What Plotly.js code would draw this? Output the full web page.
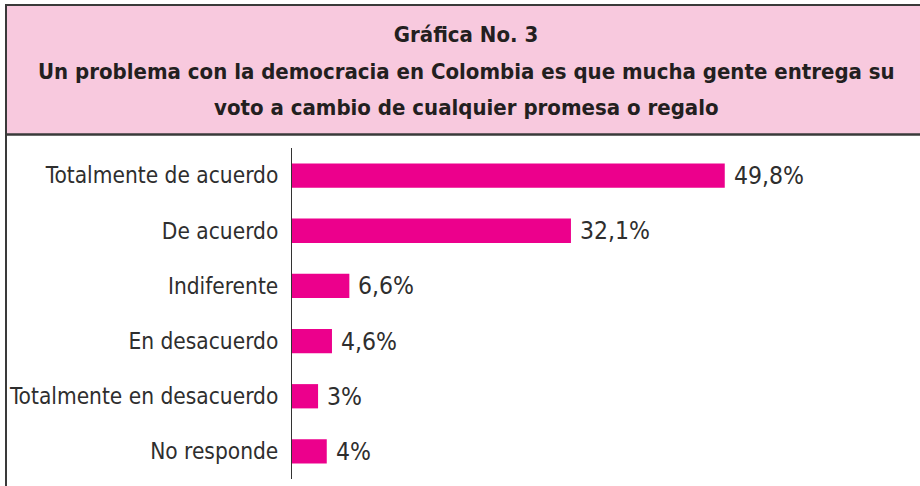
<!DOCTYPE html>
<html>
<head>
<meta charset="utf-8">
<script src="https://cdn.plot.ly/plotly-3.0.1.min.js"></script>
<style>
  html, body { margin: 0; padding: 0; background: #ffffff; }
  #chart { width: 920px; height: 486px; }
</style>
</head>
<body>
<div id="chart"></div>
<script>
const categories = [
  "Totalmente de acuerdo",
  "De acuerdo",
  "Indiferente",
  "En desacuerdo",
  "Totalmente en desacuerdo",
  "No responde"
];
const values = [49.8, 32.1, 6.6, 4.6, 3, 4];
const valueLabels = ["49,8%", "32,1%", "6,6%", "4,6%", "3%", "4%"];
const titleLines = [
  "Gráfica No. 3",
  "Un problema con la democracia en Colombia es que mucha gente entrega su",
  "voto a cambio de cualquier promesa o regalo"
];

const W = 920, H = 486;
const M = { l: 292, r: 20, t: 148, b: 7 };
const PW = W - M.l - M.r, PH = H - M.t - M.b;
const px = x => (x - M.l) / PW;
const py = y => (H - M.b - y) / PH;

const magenta = "#ec008c";
const ink = "#2e2e2e";
const narrow = "'DejaVu Sans Condensed', 'Liberation Sans Narrow', sans-serif";

const trace = {
  type: "bar",
  orientation: "h",
  y: categories,
  x: values,
  width: 0.44,
  marker: { color: magenta, line: { width: 0 } },
  hoverinfo: "skip",
  cliponaxis: false
};

const annotations = values.map((v, i) => ({
  x: v, y: categories[i], xref: "x", yref: "y",
  text: valueLabels[i], showarrow: false,
  xanchor: "left", yanchor: "middle", xshift: 7,
  font: { family: narrow, size: 24.5, color: ink }
}));

// title lines 2 and 3 (line 1 is layout.title)
const titleCenters = [34, 72, 107];
titleLines.slice(1).forEach((t, k) => {
  annotations.push({
    xref: "paper", yref: "paper", x: px(466), y: py(titleCenters[k + 1]),
    text: "<b>" + t + "</b>", showarrow: false,
    xanchor: "center", yanchor: "middle",
    font: { family: narrow, size: 22, color: "#231f20" }
  });
});

const shapes = [
  { type: "rect", xref: "paper", yref: "paper", x0: px(6), x1: px(921), y0: py(134), y1: py(5),
    fillcolor: "#f8c9de", line: { width: 0 }, layer: "below" },
  { type: "line", xref: "paper", yref: "paper", x0: px(5), x1: px(921), y0: py(5), y1: py(5),
    line: { color: "#3a3a3a", width: 2 } },
  { type: "line", xref: "paper", yref: "paper", x0: px(5), x1: px(921), y0: py(134.5), y1: py(134.5),
    line: { color: "#3a3a3a", width: 2.5 } },
  { type: "line", xref: "paper", yref: "paper", x0: px(6), x1: px(6), y0: py(4), y1: py(487),
    line: { color: "#3a3a3a", width: 2 } }
];

const layout = {
  width: W, height: H,
  margin: M,
  paper_bgcolor: "#ffffff",
  plot_bgcolor: "rgba(0,0,0,0)",
  showlegend: false,
  title: {
    text: "<b>" + titleLines[0] + "</b>",
    xref: "container", yref: "container",
    x: 466 / W, xanchor: "center",
    y: 1 - titleCenters[0] / H, yanchor: "middle",
    font: { family: narrow, size: 22, color: "#231f20" }
  },
  xaxis: {
    range: [0, PW / 8.69],
    showgrid: false, zeroline: false, showline: false,
    showticklabels: false, ticks: "", fixedrange: true
  },
  yaxis: {
    type: "category",
    autorange: "reversed",
    showgrid: false, zeroline: false,
    showline: true, linecolor: "#333333", linewidth: 1.2,
    ticks: "", ticklabelstandoff: 8,
    tickfont: { family: narrow, size: 22.5, color: ink },
    fixedrange: true
  },
  shapes: shapes,
  annotations: annotations
};

Plotly.newPlot("chart", [trace], layout, { displayModeBar: false, staticPlot: true });
</script>
</body>
</html>
